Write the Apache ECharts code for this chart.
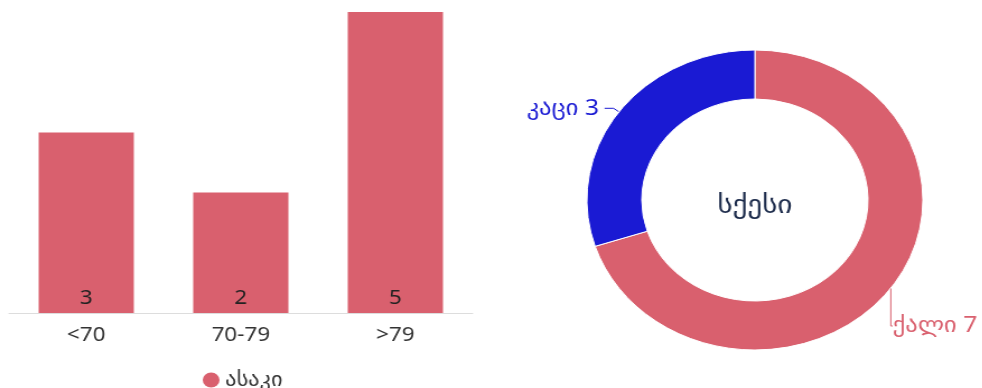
<!DOCTYPE html>
<html>
<head>
<meta charset="utf-8">
<script src="https://cdn.jsdelivr.net/npm/echarts@6/dist/echarts.min.js"></script>
<style>
html,body{margin:0;padding:0;background:#fff;overflow:hidden;}
#wrap{width:982px;height:388px;overflow:hidden;}
#chart{width:877px;height:388px;transform:scaleX(1.12);transform-origin:0 0;}
</style>
</head>
<body>
<div id="wrap"><div id="chart"></div></div>
<script>
const ageCategories = ['<70', '70-79', '>79'];
const ageValues = [3, 2, 5];
const ageSeriesName = 'ასაკი';
const sexNames = ['ქალი', 'კაცი'];
const sexValues = [7, 3];
const sexTitle = 'სქესი';

const RED = '#d9606e';
const BLUE = '#1a1ad3';
const FONT = '"Noto Sans", "DejaVu Sans", sans-serif';

const chart = echarts.init(document.getElementById('chart'));
chart.setOption({
  animation: false,
  textStyle: { fontFamily: FONT },
  legend: {
    data: [ageSeriesName],
    left: 176, top: 365,
    icon: 'circle', itemWidth: 15, itemHeight: 15, itemGap: 10,
    textStyle: { fontSize: 20, color: '#333', fontFamily: FONT }
  },
  grid: { left: 8, right: 455, top: 12, bottom: 75 },
  xAxis: {
    type: 'category', data: ageCategories,
    axisLine: { lineStyle: { color: '#ddd' } },
    axisTick: { show: false },
    axisLabel: { fontSize: 20, color: '#333', margin: 12, fontFamily: FONT }
  },
  yAxis: { type: 'value', min: 0, max: 5, show: false, splitLine: { show: false } },
  graphic: [{
    type: 'text', x: 674, y: 206,
    style: { text: sexTitle, fill: '#1b2a4a', fontSize: 26, fontFamily: FONT, textAlign: 'center', textVerticalAlign: 'middle' }
  }],
  series: [
    {
      name: ageSeriesName, type: 'bar', data: ageValues, barWidth: 85,
      itemStyle: { color: RED },
      label: { show: true, position: 'insideBottom', distance: 5, color: '#222', fontSize: 20, fontFamily: FONT }
    },
    {
      name: sexTitle, type: 'pie',
      center: [674, 200], radius: [101, 150],
      startAngle: 90, clockwise: true,
      data: sexNames.map((n, i) => ({ name: n, value: sexValues[i], itemStyle: { color: i === 0 ? RED : BLUE } })),
      itemStyle: { borderColor: '#fff', borderWidth: 1 },
      label: { show: true, formatter: '{b} {c}', fontSize: 22, color: 'inherit', fontFamily: FONT, overflow: 'none' },
      labelLine: { show: true, length: 6, length2: 8, lineStyle: { width: 1 } },
      labelLayout: function (p) {
        if (p.dataIndex === 0) {
          return { x: 797, y: 326, align: 'left', verticalAlign: 'middle' };
        }
        return {};
      }
    }
  ]
});
</script>
</body>
</html>
